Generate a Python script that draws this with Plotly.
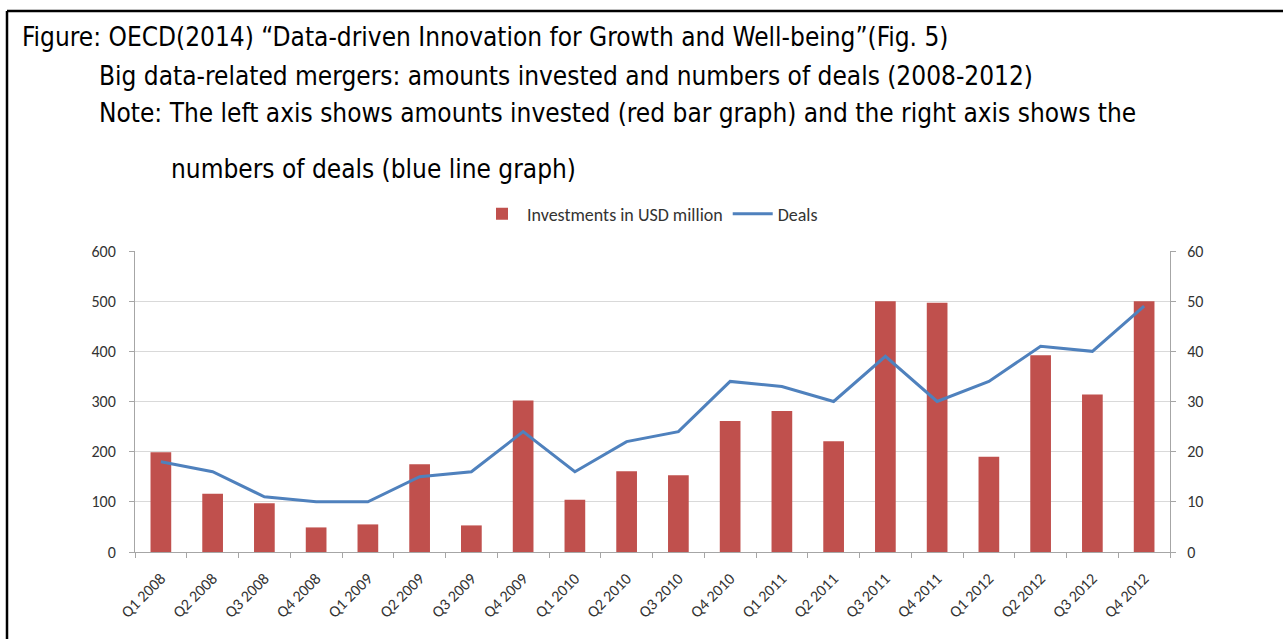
import plotly.graph_objects as go

quarters = ["Q1 2008", "Q2 2008", "Q3 2008", "Q4 2008", "Q1 2009", "Q2 2009", "Q3 2009", "Q4 2009",
            "Q1 2010", "Q2 2010", "Q3 2010", "Q4 2010", "Q1 2011", "Q2 2011", "Q3 2011", "Q4 2011",
            "Q1 2012", "Q2 2012", "Q3 2012", "Q4 2012"]
investments = [199, 116, 97, 49, 55, 175, 53, 302, 104, 161, 153, 261, 281, 221, 500, 497, 190, 392, 314, 500]
deals = [18, 16, 11, 10, 10, 15, 16, 24, 16, 22, 24, 34, 33, 30, 39, 30, 34, 41, 40, 49]

title_lines = [
    "Figure: OECD(2014) \u201cData-driven Innovation for Growth and Well-being\u201d(Fig. 5)",
    "Big data-related mergers: amounts invested and numbers of deals (2008-2012)",
    "Note: The left axis shows amounts invested (red bar graph) and the right axis shows the",
    "numbers of deals (blue line graph)",
]

W, H = 1283, 639
L, R, T, B = 135, 1170, 251, 552  # plot area in pixels


def px_x(px):
    return (px - L) / (R - L)


def px_y(py):
    return (B - py) / (B - T)


fig = go.Figure()
fig.add_trace(go.Bar(x=quarters, y=investments, name="Investments in USD million",
                     marker=dict(color="#C0504D", line=dict(width=0)), yaxis="y"))
fig.add_trace(go.Scatter(x=quarters, y=deals, name="Deals", mode="lines",
                         line=dict(color="#4F81BD", width=3), yaxis="y2"))

tfont = dict(family="Liberation Sans Narrow, DejaVu Sans Condensed, Arial Narrow, sans-serif",
             size=26, color="black")
positions = [(20, 37), (97, 75.5), (97, 113.5), (169, 169)]
annotations = []
for (xp, yc), txt in zip(positions, title_lines):
    annotations.append(dict(text=txt, xref="paper", yref="paper", x=px_x(xp), y=px_y(yc),
                            xanchor="left", yanchor="middle", showarrow=False, font=tfont))

shapes = [
    dict(type="line", xref="paper", yref="paper", x0=px_x(7), x1=px_x(1290), y0=px_y(11), y1=px_y(11),
         line=dict(color="black", width=2.5)),
    dict(type="line", xref="paper", yref="paper", x0=px_x(7), x1=px_x(7), y0=px_y(11), y1=px_y(645),
         line=dict(color="black", width=2.5)),
]

tickfont = dict(family="Carlito, Lato, Open Sans, sans-serif", size=16, color="#333333")

fig.update_layout(
    width=W, height=H,
    margin=dict(l=L, r=W - R, t=T, b=H - B, pad=0),
    paper_bgcolor="white", plot_bgcolor="white",
    bargap=0.6,
    showlegend=True,
    legend=dict(orientation="h", x=px_x(650), xanchor="center", y=px_y(214), yanchor="middle",
                font=dict(family="Carlito, Lato, sans-serif", size=18, color="#333333"),
                itemwidth=40, bgcolor="rgba(0,0,0,0)"),
    xaxis=dict(type="category", tickangle=-45, tickfont=tickfont, showline=True, linecolor="#a6a6a6",
               ticks="outside", tickson="boundaries", ticklen=5, tickcolor="#a6a6a6",
               showgrid=False, zeroline=False, ticklabelstandoff=10),
    yaxis=dict(range=[0, 600], dtick=100, tickfont=tickfont, showgrid=True, gridcolor="#d9d9d9",
               showline=True, linecolor="#a6a6a6", ticks="outside", ticklen=5, tickcolor="#a6a6a6",
               zeroline=False, ticklabelstandoff=10),
    yaxis2=dict(range=[0, 60], dtick=10, overlaying="y", side="right", tickfont=tickfont,
                showgrid=False, showline=True, linecolor="#a6a6a6", ticks="outside", ticklen=5,
                tickcolor="#a6a6a6", zeroline=False, ticklabelstandoff=8),
    annotations=annotations,
    shapes=shapes,
)

fig.write_html("out.html", config={"displayModeBar": False},
               post_script="document.body.style.margin='0';document.body.style.overflow='hidden';")
